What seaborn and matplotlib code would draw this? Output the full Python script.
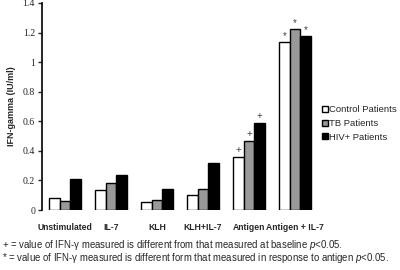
import pandas as pd
import numpy as np
from matplotlib import pyplot as plt
from matplotlib.lines import Line2D
import seaborn as sns

# data
conditions = ['Unstimulated', 'IL-7', 'KLH', 'KLH+IL-7', 'Antigen', 'Antigen + IL-7']
groups = ['Control Patients', 'TB Patients', 'HIV+ Patients']
control = [0.079, 0.135, 0.056, 0.103, 0.356, 1.135]
tb = [0.061, 0.185, 0.067, 0.144, 0.468, 1.225]
hiv = [0.207, 0.239, 0.140, 0.315, 0.586, 1.178]
marks = ['', '', '', '', '+', '*']
colors = ['white', '#999999', 'black']

df = pd.DataFrame({
    'condition': conditions * 3,
    'group': [g for g in groups for _ in conditions],
    'value': control + tb + hiv,
})

sns.set_style('white')
plt.rcParams['font.family'] = ['Liberation Sans', 'DejaVu Sans']
plt.rcParams['mathtext.fontset'] = 'custom'
plt.rcParams['mathtext.it'] = 'Liberation Sans:italic'
plt.rcParams['mathtext.rm'] = 'Liberation Sans'

fig = plt.figure(figsize=(4, 2.7), dpi=100)
ax = fig.add_axes([0.105, 0.222, 0.69, 0.767])

sns.barplot(data=df, x='condition', y='value', hue='group', order=conditions,
            hue_order=groups, palette=colors, width=0.7, edgecolor='black',
            linewidth=1, ax=ax, legend=False)

# significance marks above each bar
for gi, container in enumerate(ax.containers):
    for ci, bar in enumerate(container):
        m = marks[ci]
        if not m:
            continue
        x = bar.get_x() + bar.get_width() / 2
        y = bar.get_height()
        if m == '+':
            ax.text(x, y + 0.015, '+', ha='center', va='bottom', fontsize=7, color='#444444')
        else:
            ax.text(x, y + 0.005, '*', ha='center', va='bottom', fontsize=7, color='#444444')

ax.set_ylim(0, 1.4)
ax.set_xlim(-0.5, 5.5)
ax.set_yticks(np.arange(0, 1.41, 0.2))
ax.set_yticklabels(['0', '0.2', '0.4', '0.6', '0.8', '1', '1.2', '1.4'],
                   family='Liberation Serif', fontsize=7)
ax.set_xticks(range(len(conditions)))
ax.set_xticklabels(conditions, fontweight='bold', fontsize=6.2)
ax.tick_params(axis='y', direction='out', length=3, width=1, pad=2, left=True)
ax.tick_params(axis='x', length=0, pad=9)
ax.set_xlabel('')
ax.set_ylabel('IFN-gamma (IU/ml)', fontweight='bold', fontsize=6.5, labelpad=5)
for s in ['top', 'right', 'bottom']:
    ax.spines[s].set_visible(False)
ax.spines['left'].set_linewidth(1.2)
ax.spines['left'].set_color('black')

handles = [Line2D([0], [0], marker='s', linestyle='', markersize=5,
                  markerfacecolor=c, markeredgecolor='black', markeredgewidth=1)
           for c in colors]
fig.legend(handles, groups, loc='upper left', bbox_to_anchor=(0.805, 0.61),
           frameon=False, fontsize=6.8, handlelength=0.6, handletextpad=0.15,
           labelspacing=0.5, borderaxespad=0, borderpad=0)

fig.text(0.005, 0.091, '+ = value of IFN-γ measured is different from that measured at baseline $p$<0.05.',
         fontsize=6.9, va='center')
fig.text(0.005, 0.044, '* = value of IFN-γ measured is different form that measured in response to antigen $p$<0.05.',
         fontsize=6.9, va='center')

fig.savefig('out.png', dpi=100)
